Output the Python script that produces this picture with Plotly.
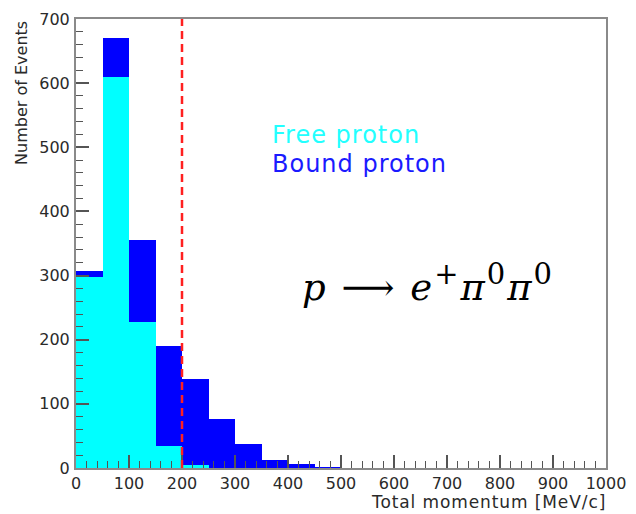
import plotly.graph_objects as go

# Histogram of total momentum, 50 MeV/c bins
bin_edges = [0, 50, 100, 150, 200, 250, 300, 350, 400, 450, 500]
free_counts = [298, 610, 227, 35, 5, 0, 0, 0, 0, 0]
bound_counts = [9, 60, 129, 155, 133, 77, 38, 12, 6, 1]
cut_value = 200

x_ticks = [0, 100, 200, 300, 400, 500, 600, 700, 800, 900, 1000]
y_ticks = [0, 100, 200, 300, 400, 500, 600, 700]

centers = [(a + b) / 2 for a, b in zip(bin_edges[:-1], bin_edges[1:])]
widths = [b - a for a, b in zip(bin_edges[:-1], bin_edges[1:])]

CYAN = "#00ffff"
BLUE = "#0000ff"
AXIS_GREY = "#8a8a8a"
TICK_GREY = "#555555"
TEXT_GREY = "#2a2a2a"
FONT = "DejaVu Sans"

fig = go.Figure()
fig.add_trace(go.Bar(x=centers, y=free_counts, width=widths, name="Free proton",
                     marker=dict(color=CYAN, line=dict(width=0))))
fig.add_trace(go.Bar(x=centers, y=bound_counts, width=widths, name="Bound proton",
                     marker=dict(color=BLUE, line=dict(width=0))))

# momentum cut
fig.add_shape(type="line", x0=cut_value, x1=cut_value, y0=0, y1=700, xref="x", yref="y",
              line=dict(color="#ff2020", width=2.5, dash="8px,5px"), layer="above")

axis_common = dict(
    showline=True, linecolor=AXIS_GREY, linewidth=2, mirror=True,
    showgrid=False, zeroline=False,
    ticks="inside", ticklen=13, tickwidth=1.5, tickcolor=TICK_GREY,
    tickfont=dict(family=FONT, size=16, color=TEXT_GREY),
)
minor_ticks = dict(dtick=20, ticks="inside", ticklen=7, tickwidth=1.2,
                   tickcolor=TICK_GREY, showgrid=False)

fig.update_layout(
    width=636, height=514,
    margin=dict(l=76, r=24, t=10, b=46),
    paper_bgcolor="white", plot_bgcolor="white",
    barmode="stack", bargap=0, showlegend=False,
    xaxis=dict(range=[0, 1000], tickvals=x_ticks, ticktext=[str(v) for v in x_ticks],
               ticklabelstandoff=0, minor=minor_ticks, **axis_common),
    yaxis=dict(range=[0, 700], tickvals=y_ticks, ticktext=[str(v) for v in y_ticks],
               ticklabelstandoff=1, minor=minor_ticks, **axis_common),
    font=dict(family=FONT),
)

sup_style = "<sup><span style='font-size:112%'>{}</span></sup>"
formula = ("<span style='letter-spacing:2px'><i>p</i>\u00a0⟶\u00a0<i>e</i>"
           + sup_style.format("+")
           + "<i>π</i>" + sup_style.format("0")
           + "<i>π</i>" + sup_style.format("0") + "</span>")


def spaced(text, px):
    return "<span style='letter-spacing:{}px'>{}</span>".format(px, text)


annotations = [
    # axis titles (ROOT style: aligned to the axis ends)
    dict(text=spaced("Total momentum [MeV/c]", 0.9), xref="paper", yref="paper",
         x=1.002, y=-0.0995, xanchor="right", yanchor="bottom", showarrow=False,
         borderpad=0, font=dict(family=FONT, size=17, color=TEXT_GREY)),
    dict(text="Number of Events", xref="paper", yref="paper", x=-0.104, y=1.0,
         xanchor="center", yanchor="top", textangle=-90, showarrow=False,
         font=dict(family=FONT, size=16, color=TEXT_GREY)),
    # legend text
    dict(text=spaced("Free proton", 1), xref="paper", yref="paper", x=0.366, y=0.742,
         xanchor="left", yanchor="middle", showarrow=False,
         font=dict(family=FONT, size=24, color="#22ffff")),
    dict(text=spaced("Bound proton", 1), xref="paper", yref="paper", x=0.366, y=0.676,
         xanchor="left", yanchor="middle", showarrow=False,
         font=dict(family=FONT, size=24, color="#1a1aff")),
    # decay channel
    dict(text=formula, xref="paper", yref="paper", x=0.4235, y=0.413,
         xanchor="left", yanchor="middle", showarrow=False,
         font=dict(family="DejaVu Serif", size=37, color="black")),
]
fig.update_layout(annotations=annotations)

fig.write_html("out.html")
